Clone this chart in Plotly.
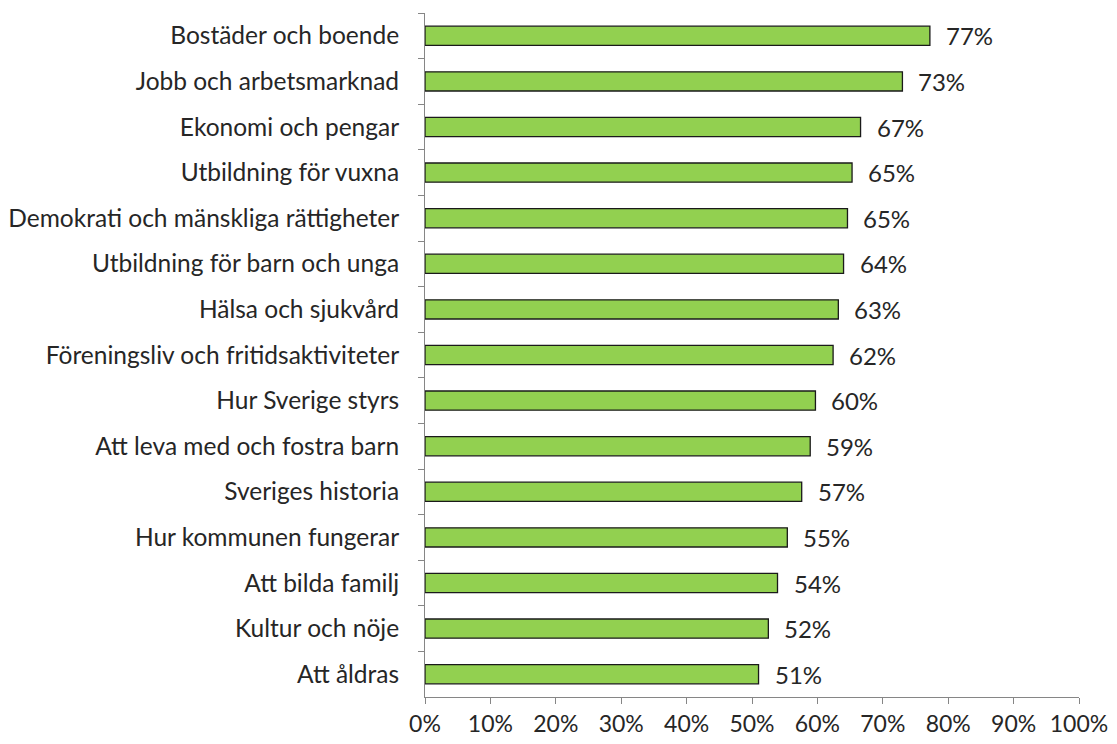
import plotly.graph_objects as go

categories = [
    "Bostäder och boende",
    "Jobb och arbetsmarknad",
    "Ekonomi och pengar",
    "Utbildning för vuxna",
    "Demokrati och mänskliga rättigheter",
    "Utbildning för barn och unga",
    "Hälsa och sjukvård",
    "Föreningsliv och fritidsaktiviteter",
    "Hur Sverige styrs",
    "Att leva med och fostra barn",
    "Sveriges historia",
    "Hur kommunen fungerar",
    "Att bilda familj",
    "Kultur och nöje",
    "Att åldras",
]
values = [77.2, 73.0, 66.6, 65.3, 64.6, 64.0, 63.2, 62.4, 59.7, 58.9, 57.6, 55.4, 53.9, 52.5, 51.0]
labels = ["77%", "73%", "67%", "65%", "65%", "64%", "63%", "62%", "60%", "59%", "57%", "55%", "54%", "52%", "51%"]
tick_vals = [0, 10, 20, 30, 40, 50, 60, 70, 80, 90, 100]
tick_text = ["0%", "10%", "20%", "30%", "40%", "50%", "60%", "70%", "80%", "90%", "100%"]

FONT = "Lato"
TXT = "#262626"

fig = go.Figure()
fig.add_trace(go.Bar(
    x=values,
    y=categories,
    orientation="h",
    marker=dict(color="#92D050", line=dict(color="#1a1a1a", width=1.3)),
    hoverinfo="x+y",
))

for v, c, t in zip(values, categories, labels):
    fig.add_annotation(x=v, y=c, text=t, showarrow=False, xanchor="left",
                       xshift=14, font=dict(family=FONT, size=24, color=TXT))

# page body adds an 8px offset; figure is sized so the plot area lands where the reference has it
fig.update_layout(
    width=1109, height=736,
    margin=dict(l=417, r=38, t=5, b=47, autoexpand=False),
    paper_bgcolor="white", plot_bgcolor="white",
    bargap=0.58,
    showlegend=False,
    font=dict(family=FONT, size=24, color=TXT),
)
fig.update_xaxes(
    range=[0, 100], tickvals=tick_vals, ticktext=tick_text,
    showgrid=False, zeroline=False, automargin=False,
    showline=True, linecolor="#868686", linewidth=1,
    ticks="outside", ticklen=6, tickcolor="#868686",
    tickfont=dict(family=FONT, size=23, color=TXT),
)
fig.update_yaxes(
    type="category", autorange="reversed",
    categoryorder="array", categoryarray=categories,
    showgrid=False, zeroline=False, automargin=False,
    showline=True, linecolor="#868686", linewidth=1,
    ticks="outside", ticklen=6, tickcolor="#868686", tickson="boundaries",
    ticklabelstandoff=20,
    tickfont=dict(family=FONT, size=24.5, color=TXT),
)

fig.write_html("out.html")
